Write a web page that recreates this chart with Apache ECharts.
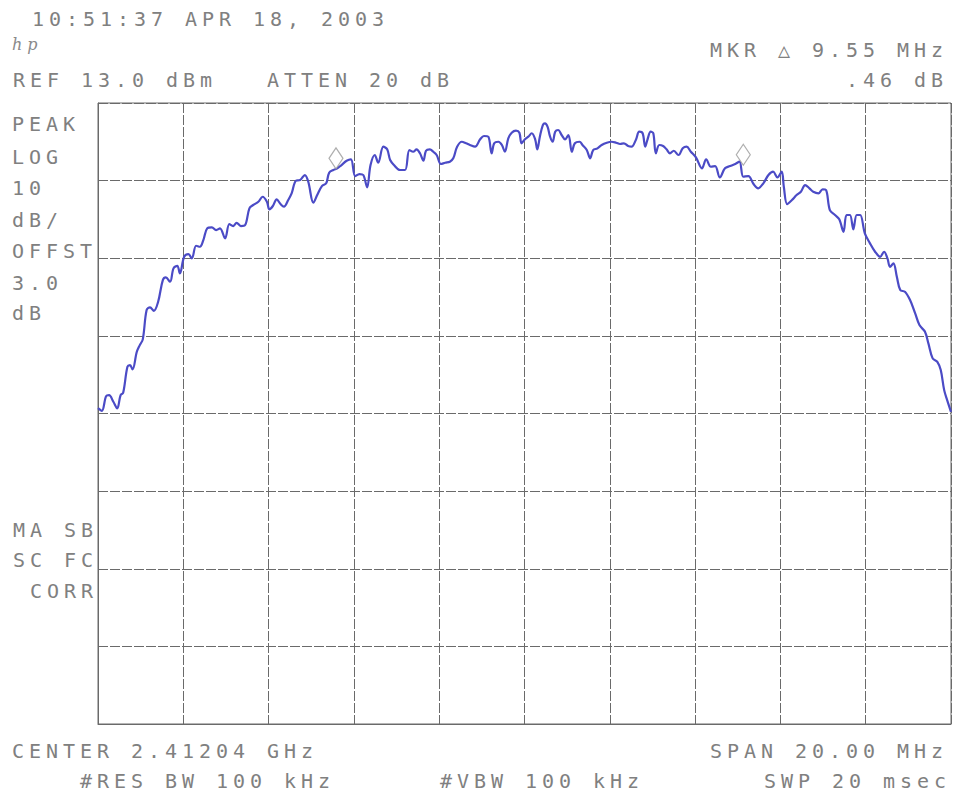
<!DOCTYPE html>
<html>
<head>
<meta charset="utf-8">
<title>Spectrum analyzer plot</title>
<script src="https://cdn.jsdelivr.net/npm/echarts@6/dist/echarts.min.js"></script>
<style>
  html, body { margin: 0; padding: 0; background: #fff; }
  #chart { width: 958px; height: 798px; }
  /* plotter-style lettering: wide, evenly spaced character cells */
  #chart text { letter-spacing: 4.96px; }
</style>
</head>
<body>
<div id="chart"></div>
<script>
// Reference level of the display (top graticule line), dBm; 10 dB per division
const REF_DBM = 13.0;
const DB_PER_DIV = 10;
const DIVISIONS_Y = 8;
const SPAN_MHZ = 20;

// Trace: frequency offset from center (MHz) and measured level (dBm)
const freqMHz = [
  -10.00,-9.91,-9.81,-9.74,-9.64,-9.55,-9.47,-9.41,-9.31,-9.25,
  -9.19,-9.09,-9.02,-8.95,-8.86,-8.78,-8.69,-8.59,-8.48,-8.41,
  -8.31,-8.23,-8.14,-8.08,-7.98,-7.88,-7.80,-7.70,-7.61,-7.53,
  -7.44,-7.33,-7.23,-7.14,-7.02,-6.92,-6.83,-6.75,-6.65,-6.55,
  -6.45,-6.36,-6.24,-6.14,-6.04,-5.98,-5.90,-5.81,-5.72,-5.64,
  -5.54,-5.46,-5.36,-5.26,-5.15,-5.07,-4.95,-4.86,-4.75,-4.65,
  -4.58,-4.48,-4.39,-4.29,-4.17,-4.07,-3.97,-3.87,-3.78,-3.69,
  -3.61,-3.51,-3.43,-3.31,-3.22,-3.15,-3.06,-2.92,-2.80,-2.70,
  -2.61,-2.53,-2.45,-2.37,-2.31,-2.22,-2.14,-2.06,-1.96,-1.86,
  -1.75,-1.67,-1.58,-1.47,-1.37,-1.28,-1.16,-1.04,-0.95,-0.85,
  -0.77,-0.71,-0.61,-0.53,-0.46,-0.38,-0.30,-0.20,-0.12,-0.07,
  0.01,0.09,0.17,0.25,0.30,0.36,0.43,0.48,0.54,0.60,
  0.66,0.72,0.79,0.87,0.95,1.03,1.11,1.18,1.29,1.36,
  1.46,1.54,1.61,1.71,1.81,1.93,2.04,2.15,2.24,2.33,
  2.43,2.51,2.61,2.69,2.77,2.83,2.88,2.96,3.02,3.08,
  3.16,3.25,3.33,3.41,3.50,3.61,3.71,3.80,3.90,4.02,
  4.16,4.26,4.37,4.47,4.58,4.70,4.82,4.94,5.04,5.13,
  5.25,5.37,5.48,5.60,5.72,5.83,5.93,6.03,6.08,6.16,
  6.27,6.38,6.48,6.58,6.68,6.77,6.89,6.99,7.07,7.16,
  7.28,7.38,7.48,7.55,7.63,7.71,7.79,7.87,7.98,8.10,
  8.22,8.34,8.43,8.51,8.57,8.65,8.73,8.81,8.92,9.04,
  9.16,9.26,9.39,9.47,9.57,9.68,9.76,9.84,9.91,10.00
];
const levelDbm = [
  -26.31,-26.65,-24.76,-24.63,-25.49,-26.34,-24.63,-24.33,-20.98,-20.76,
  -21.32,-19.05,-18.19,-17.45,-13.68,-13.33,-13.77,-12.61,-9.81,-9.46,
  -10.03,-8.30,-7.97,-8.95,-6.81,-6.46,-7.01,-5.39,-5.52,-4.66,
  -3.15,-3.02,-3.37,-3.15,-4.44,-2.59,-2.85,-2.43,-2.85,-2.72,
  -0.57,-0.14,0.28,0.92,0.28,-0.70,-0.27,0.59,-0.02,-0.36,
  0.50,1.36,2.99,3.08,3.72,2.86,0.15,1.14,2.30,2.65,
  4.02,4.37,4.58,5.01,5.56,5.74,3.59,3.85,3.72,2.14,
  5.01,6.30,5.31,7.37,7.03,5.65,5.01,4.37,4.37,6.94,
  6.72,7.03,6.52,5.56,6.85,7.03,6.72,6.30,5.14,5.31,
  5.44,5.87,7.37,8.01,7.81,7.59,7.37,8.32,8.75,8.66,
  6.52,7.81,8.01,7.59,6.72,8.45,9.17,9.43,9.17,7.81,
  8.32,8.66,9.10,8.32,7.03,8.66,10.16,10.38,9.95,8.66,
  8.01,9.30,9.52,8.88,8.32,8.88,6.72,7.81,8.01,7.59,
  6.94,5.87,6.94,7.16,7.59,7.88,8.01,7.88,7.72,7.81,
  7.46,7.37,8.23,9.30,9.10,7.37,8.23,9.30,9.10,6.52,
  7.59,7.46,7.03,6.52,6.85,6.30,7.16,7.37,6.72,6.00,
  4.58,5.74,4.79,4.88,3.42,4.58,4.88,5.14,5.44,3.50,
  3.59,2.56,2.01,2.65,3.72,4.15,3.42,4.15,2.21,-0.02,
  0.50,1.14,1.57,2.43,2.01,1.57,1.36,1.88,1.79,-0.79,
  -1.43,-1.99,-3.59,-1.43,-1.43,-3.28,-1.43,-1.43,-3.79,-5.08,
  -6.16,-6.81,-6.16,-7.01,-8.10,-7.66,-9.38,-11.10,-11.32,-12.39,
  -14.10,-15.61,-16.47,-17.97,-19.90,-20.34,-21.41,-23.99,-25.27,-26.78
];

// Delta marker pair: 9.55 MHz apart, 0.46 dB difference
const markerFreqMHz = [-4.42, 5.13];
const markerLevelDbm = [4.45, 4.91];

// Annotation text blocks: [text, left x, center y]
const headerTexts = [
  ['10:51:37 APR 18, 2003', 32, 19],
  ['REF 13.0 dBm', 13, 80],
  ['ATTEN 20 dB', 267, 80],
  ['MKR \u25B3 9.55 MHz', 710, 50],
  ['.46 dB', 846, 80]
];
const sideTexts = [
  ['PEAK', 12, 124], ['LOG', 12, 157], ['10', 12, 188], ['dB/', 12, 220],
  ['OFFST', 12, 251], ['3.0', 12, 283], ['dB', 12, 313],
  ['MA SB', 13, 530], ['SC FC', 13, 560], ['CORR', 30, 591]
];
const footerTexts = [
  ['CENTER 2.41204 GHz', 12, 751],
  ['SPAN 20.00 MHz', 710, 751],
  ['#RES BW 100 kHz', 80, 781],
  ['#VBW 100 kHz', 440, 781],
  ['SWP 20 msec', 764, 781]
];

const TEXT_COLOR = '#808080';
const TEXT_FONT = '20px "DejaVu Sans Mono", "Liberation Mono", monospace';
const GRID_COLOR = '#6a6a6a';
const TRACE_COLOR = '#4b4bc6';

// Levels are plotted relative to the reference level so the graticule starts at 0
const traceData = freqMHz.map((f, i) => [f, levelDbm[i] - REF_DBM]);
const markerData = markerFreqMHz.map((f, i) => [f, markerLevelDbm[i] - REF_DBM]);

function textItems(list) {
  return list.map(([text, x, y]) => ({
    type: 'text',
    x: x, y: y,
    silent: true,
    style: {
      text: text,
      font: TEXT_FONT,
      fill: TEXT_COLOR,
      align: 'left',
      verticalAlign: 'middle'
    }
  }));
}

const chart = echarts.init(document.getElementById('chart'), null, { renderer: 'svg' });

const gridLine = { show: true, lineStyle: { color: GRID_COLOR, width: 1, type: [10, 2] } };
const frameLine = { show: true, onZero: false, lineStyle: { color: GRID_COLOR, width: 1 } };

chart.setOption({
  animation: false,
  backgroundColor: '#ffffff',
  grid: {
    left: 98, right: 7, top: 103, bottom: 74,
    show: true, borderColor: GRID_COLOR, borderWidth: 1
  },
  xAxis: {
    type: 'value',
    min: -SPAN_MHZ / 2, max: SPAN_MHZ / 2, interval: SPAN_MHZ / 10,
    axisLine: frameLine,
    axisTick: { show: false },
    axisLabel: { show: false },
    splitLine: gridLine
  },
  yAxis: {
    type: 'value',
    min: -DB_PER_DIV * DIVISIONS_Y, max: 0, interval: DB_PER_DIV,
    axisLine: frameLine,
    axisTick: { show: false },
    axisLabel: { show: false },
    splitLine: gridLine
  },
  series: [
    {
      type: 'line',
      data: traceData,
      showSymbol: false,
      smooth: 0.35,
      lineStyle: { color: TRACE_COLOR, width: 2.2 },
      z: 3
    },
    {
      type: 'scatter',
      data: markerData,
      symbol: 'diamond',
      symbolSize: [14, 21],
      symbolOffset: [0, -11],
      itemStyle: { color: '#ffffff', borderColor: '#9a9a9a', borderWidth: 1.2 },
      z: 4
    }
  ],
  graphic: [
    ...textItems(headerTexts),
    ...textItems(sideTexts),
    ...textItems(footerTexts),
    {
      type: 'text', x: 12, y: 44, silent: true,
      style: {
        text: 'hp', font: 'italic 16px "DejaVu Serif", serif',
        fill: '#8a8a8a', align: 'left', verticalAlign: 'middle'
      }
    }
  ]
});
</script>
</body>
</html>
